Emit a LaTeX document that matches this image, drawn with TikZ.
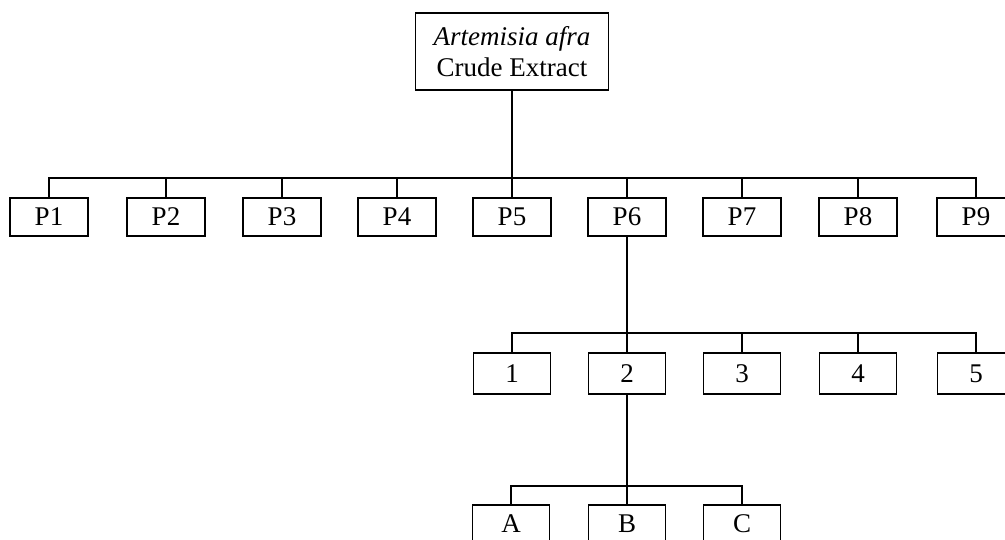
\documentclass[tikz,border=0pt]{standalone}
\usepackage{fontspec}
\setmainfont{Liberation Serif}
\begin{document}
\begin{tikzpicture}[x=1pt,y=-1pt,
  line width=1.7pt,
  box/.style={draw,rectangle,inner sep=0pt,minimum width=78pt,minimum height=38pt,
    font=\fontsize{27}{31}\selectfont},
  conn/.style={draw,line width=1.7pt,line cap=rect}]
\useasboundingbox (0,0) rectangle (1005,540);
% top node
\node[box,minimum width=193pt,minimum height=77pt,align=center] (top) at (512,51.5)
  {\textit{Artemisia afra}\\Crude Extract};
% first row
\foreach \i/\x in {1/49,2/166,3/282,4/397,5/512,6/627,7/742,8/858,9/976}
  \node[box] (P\i) at (\x,217) {P\i};
\coordinate (bus1) at (512,178);
\draw[conn] (top.south) -- (bus1);
\draw[conn] (P1.north |- bus1) -- (P9.north |- bus1);
\foreach \i in {1,...,9}
  \draw[conn] (P\i.north) -- (P\i.north |- bus1);
% second row
\foreach \i/\x in {1/512,2/627,3/742,4/858,5/976}
  \node[box,minimum width=77pt,minimum height=41pt] (S\i) at (\x,373.5) {\i};
\coordinate (bus2) at (627,333);
\draw[conn] (P6.south) -- (bus2);
\draw[conn] (S1.north |- bus2) -- (S5.north |- bus2);
\foreach \i in {1,...,5}
  \draw[conn] (S\i.north) -- (S\i.north |- bus2);
% third row
\foreach \n/\x in {A/511,B/627,C/742}
  \node[box,minimum width=77pt] (T\n) at (\x,524) {\n};
\coordinate (bus3) at (627,486);
\draw[conn] (S2.south) -- (bus3);
\draw[conn] (TA.north |- bus3) -- (TC.north |- bus3);
\foreach \n in {A,B,C}
  \draw[conn] (T\n.north) -- (T\n.north |- bus3);
\end{tikzpicture}
\end{document}
